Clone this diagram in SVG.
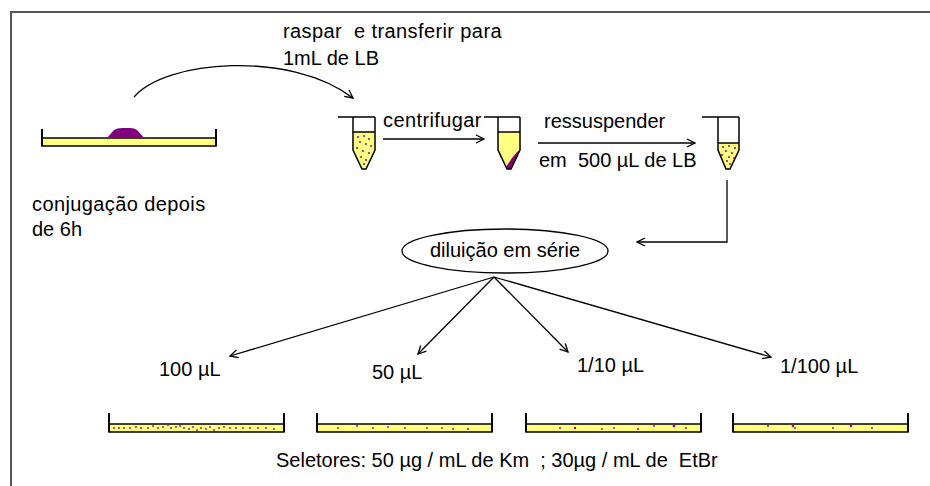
<svg xmlns="http://www.w3.org/2000/svg" width="930" height="486" viewBox="0 0 930 486">
<style>
  text { font-family: "Liberation Sans", Arial, sans-serif; font-size: 20px; fill: #000; }
  .wide { letter-spacing: 0.4px; }
  .ln { stroke: #000; stroke-width: 1.3; fill: none; }
  .agar { fill: #ffff80; stroke: #000; stroke-width: 1.5; }
  .wall { stroke: #000; stroke-width: 2; fill: none; }
  .tube { stroke: #000; stroke-width: 1.5; fill: none; }
  .dot { fill: #a000a0; }
</style>
<defs>
  <marker id="ah" viewBox="0 0 10 10" refX="9" refY="5" markerWidth="10" markerHeight="10" markerUnits="userSpaceOnUse" orient="auto">
    <path d="M1,1 L9,5 L1,9" stroke="#000" stroke-width="1.3" fill="none"/>
  </marker>
</defs>
<rect x="0" y="0" width="930" height="486" fill="#fff"/>
<rect x="11" y="12" width="930" height="490" fill="none" stroke="#555" stroke-width="2"/>

<g id="plate-top">
  <rect class="agar" x="42" y="138" width="174" height="8"/>
  <path d="M107,138 L114,130 Q117,128 122,128 H130 Q135,128 138,131 L144,138 Z" fill="#800080"/>
  <path class="wall" d="M42,129 V146 M216,129 V146"/>
</g>
<text x="32" y="211" xml:space="preserve" class="wide">conjugação depois</text>
<text x="32" y="236">de 6h</text>

<text x="283" y="38" xml:space="preserve" class="wide">raspar  e transferir para</text>
<text x="283" y="65">1mL de LB</text>

<g id="tube1">
  <path d="M353,132 H375 V150 L366,169 H362 L353,150 Z" fill="#ffff80"/>
  <path class="tube" d="M338,117 H375 M353,117 V150 L362,169 H366 L375,150 V117 M353,132 H375"/>
  <g class="dot">
    <circle cx="358" cy="137" r="1"/><circle cx="364" cy="136" r="1"/><circle cx="369" cy="139" r="1"/>
    <circle cx="360" cy="142" r="1"/><circle cx="366" cy="144" r="1"/><circle cx="371" cy="146" r="1"/>
    <circle cx="357" cy="148" r="1"/><circle cx="363" cy="151" r="1"/><circle cx="369" cy="153" r="1"/>
    <circle cx="361" cy="157" r="1"/><circle cx="366" cy="160" r="1"/><circle cx="364" cy="164" r="1"/>
  </g>
</g>
<text x="383" y="127" class="wide">centrifugar</text>

<g id="tube2">
  <path d="M498,132 H520 V150 L511,169 H507 L498,150 Z" fill="#ffff80"/>
  <path d="M506,167 L512,158 L517,152 L520,150 L515,161 L511,169 H507 Z" fill="#800080"/>
  <path class="tube" d="M484,117 H520 M498,117 V150 L507,169 H511 L520,150 V117 M498,132 H520"/>
</g>
<text x="544" y="128">ressuspender</text>
<text x="539" y="167" xml:space="preserve">em  500 µL de LB</text>

<g id="tube3">
  <path d="M718,143 H739 V150 L730,169 H726 L718,150 Z" fill="#ffff80"/>
  <path class="tube" d="M702,117 H739 M718,117 V150 L726,169 H730 L739,150 V117 M718,143 H739"/>
  <g class="dot">
    <circle cx="723" cy="147" r="1"/><circle cx="729" cy="146" r="1"/><circle cx="735" cy="148" r="1"/>
    <circle cx="726" cy="151" r="1"/><circle cx="732" cy="153" r="1"/><circle cx="722" cy="155" r="1"/>
    <circle cx="729" cy="157" r="1"/><circle cx="734" cy="158" r="1"/><circle cx="727" cy="161" r="1"/>
    <circle cx="730" cy="164" r="1"/>
  </g>
</g>

<g id="dilution">
  <ellipse class="ln" cx="505" cy="251" rx="103" ry="22"/>
  <text x="505" y="257" text-anchor="middle">diluição em série</text>
</g>

<text x="159" y="376">100 µL</text>
<text x="372" y="379">50 µL</text>
<text x="577" y="372">1/10 µL</text>
<text x="780" y="373">1/100 µL</text>

<g id="connectors">
  <path class="ln" d="M134,97 C165,60 290,50 353,98" marker-end="url(#ah)"/>
  <path class="ln" d="M383,139 H484" marker-end="url(#ah)"/>
  <path class="ln" d="M538,143 H695" marker-end="url(#ah)"/>
  <path class="ln" d="M727,180 V242 H637" marker-end="url(#ah)"/>
  <path class="ln" d="M494,277 L230,356" marker-end="url(#ah)"/>
  <path class="ln" d="M494,277 L418,354" marker-end="url(#ah)"/>
  <path class="ln" d="M494,277 L568,352" marker-end="url(#ah)"/>
  <path class="ln" d="M494,277 L771,357" marker-end="url(#ah)"/>
</g>

<g id="plate1">
  <rect class="agar" x="109" y="424" width="175" height="8"/>
  <path class="wall" d="M109,413 V432 M284,413 V432"/>
  <g class="dot">
    <circle cx="114" cy="428" r="0.9"/><circle cx="119" cy="428" r="0.9"/><circle cx="124" cy="428" r="0.9"/>
    <circle cx="130" cy="428" r="0.9"/><circle cx="136" cy="427" r="0.9"/><circle cx="141" cy="428" r="0.9"/>
    <circle cx="148" cy="428" r="0.9"/><circle cx="153" cy="426" r="0.9"/><circle cx="158" cy="428" r="0.9"/>
    <circle cx="163" cy="427" r="0.9"/><circle cx="168" cy="425" r="0.9"/><circle cx="171" cy="428" r="0.9"/>
    <circle cx="176" cy="427" r="0.9"/><circle cx="180" cy="426" r="0.9"/><circle cx="184" cy="428" r="0.9"/>
    <circle cx="189" cy="429" r="0.9"/><circle cx="193" cy="427" r="0.9"/><circle cx="197" cy="430" r="0.9"/>
    <circle cx="201" cy="428" r="0.9"/><circle cx="206" cy="429" r="0.9"/><circle cx="210" cy="427" r="0.9"/>
    <circle cx="214" cy="430" r="0.9"/><circle cx="219" cy="428" r="0.9"/><circle cx="224" cy="427" r="0.9"/>
    <circle cx="230" cy="428" r="0.9"/><circle cx="236" cy="428" r="0.9"/><circle cx="243" cy="428" r="0.9"/>
    <circle cx="250" cy="428" r="0.9"/><circle cx="258" cy="428" r="0.9"/><circle cx="266" cy="428" r="0.9"/>
    <circle cx="274" cy="429" r="0.9"/>
  </g>
</g>
<g id="plate2">
  <rect class="agar" x="317" y="424" width="175" height="8"/>
  <path class="wall" d="M317,413 V432 M492,413 V432"/>
  <g class="dot">
    <circle cx="338" cy="428" r="0.9"/><circle cx="357" cy="426" r="1"/><circle cx="373" cy="428" r="0.9"/>
    <circle cx="388" cy="427" r="0.9"/><circle cx="405" cy="428" r="0.9"/><circle cx="427" cy="428" r="0.9"/>
    <circle cx="442" cy="428" r="0.9"/><circle cx="453" cy="429" r="0.9"/><circle cx="468" cy="429" r="1"/>
  </g>
</g>
<g id="plate3">
  <rect class="agar" x="526" y="424" width="175" height="8"/>
  <path class="wall" d="M526,413 V432 M701,413 V432"/>
  <g class="dot">
    <circle cx="560" cy="428" r="0.9"/><circle cx="575" cy="428" r="1.2"/><circle cx="602" cy="429" r="0.9"/>
    <circle cx="614" cy="428" r="0.9"/><circle cx="638" cy="429" r="1"/><circle cx="654" cy="426" r="0.9"/>
    <circle cx="674" cy="426" r="1.4"/><circle cx="686" cy="428" r="0.9"/>
  </g>
</g>
<g id="plate4">
  <rect class="agar" x="733" y="424" width="175" height="8"/>
  <path class="wall" d="M733,413 V432 M908,413 V432"/>
  <g class="dot">
    <circle cx="768" cy="426" r="1"/><circle cx="793" cy="426" r="1.3"/><circle cx="795" cy="428" r="0.9"/>
    <circle cx="833" cy="428" r="0.9"/><circle cx="851" cy="426" r="1.3"/><circle cx="872" cy="428" r="0.9"/>
  </g>
</g>

<text x="276" y="467" xml:space="preserve">Seletores: 50 µg / mL de Km  ; 30µg / mL de  EtBr</text>
</svg>
